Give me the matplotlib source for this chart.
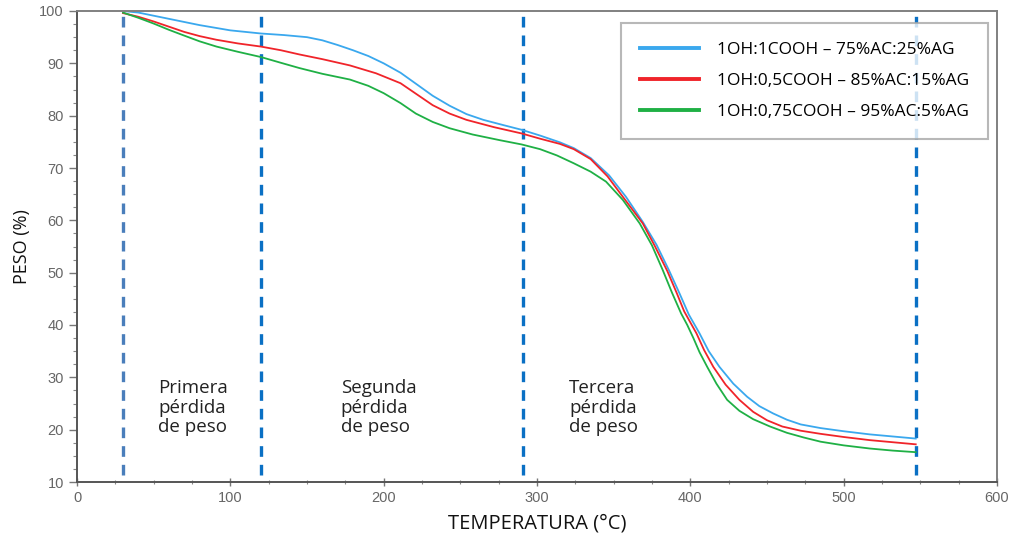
import matplotlib.pyplot as plt
from matplotlib.ticker import MultipleLocator

# TGA curves: temperature (°C) vs weight (%)
temp_a = [30, 40, 50, 60, 70, 80, 90, 100, 110, 120, 135, 150, 160, 170, 180, 190, 200, 211,
          222, 232, 243, 254, 265, 278, 290, 302, 315, 324, 335, 347, 358, 369, 378, 386,
          393, 399, 406, 412, 419, 428, 437, 445, 454, 463, 472, 485, 500, 517, 532, 547]
peso_a = [100.0, 99.7, 99.1, 98.5, 97.9, 97.3, 96.8, 96.3, 96.0, 95.7, 95.4, 95.0, 94.4, 93.5,
          92.5, 91.4, 90.0, 88.2, 85.9, 83.8, 81.9, 80.3, 79.2, 78.2, 77.3, 76.2, 74.9, 73.8,
          71.9, 68.6, 64.5, 59.7, 55.3, 50.5, 46.0, 42.0, 38.4, 35.0, 32.0, 28.8, 26.3, 24.5,
          23.1, 21.9, 21.0, 20.3, 19.7, 19.1, 18.7, 18.3]

temp_b = [30, 40, 50, 60, 70, 80, 91, 105, 120, 133, 145, 160, 178, 195, 211, 222, 232, 243,
          254, 272, 290, 302, 315, 324, 335, 346, 357, 369, 377, 385, 391, 396, 404, 409,
          415, 423, 432, 441, 450, 460, 472, 485, 500, 517, 532, 547]
peso_b = [99.6, 98.9, 98.0, 97.0, 96.0, 95.2, 94.5, 93.8, 93.2, 92.5, 91.7, 90.8, 89.6, 88.1,
          86.2, 84.0, 82.0, 80.4, 79.2, 77.8, 76.6, 75.6, 74.6, 73.6, 71.7, 68.4, 64.1, 59.4,
          55.0, 50.3, 46.2, 42.6, 38.4, 35.2, 32.0, 28.6, 25.7, 23.4, 21.8, 20.6, 19.8, 19.2,
          18.6, 18.0, 17.6, 17.2]

temp_c = [30, 40, 50, 60, 69, 80, 91, 105, 120, 133, 145, 160, 178, 190, 200, 211, 221, 232,
          243, 258, 276, 290, 302, 313, 324, 335, 345, 356, 367, 375, 382, 388, 394, 398,
          402, 406, 411, 417, 424, 432, 441, 452, 463, 474, 485, 500, 517, 532, 547]
peso_c = [99.7, 98.7, 97.6, 96.4, 95.4, 94.2, 93.2, 92.2, 91.2, 90.1, 89.1, 88.0, 86.9, 85.7,
          84.3, 82.4, 80.4, 78.8, 77.6, 76.4, 75.3, 74.5, 73.6, 72.4, 70.9, 69.3, 67.4, 63.9,
          59.4, 55.2, 50.5, 46.2, 42.2, 40.0, 37.5, 34.8, 32.0, 28.8, 25.7, 23.6, 22.0, 20.6,
          19.4, 18.5, 17.7, 17.0, 16.4, 16.0, 15.7]

etiquetas = ['1OH:1COOH – 75%AC:25%AG',
             '1OH:0,5COOH – 85%AC:15%AG',
             '1OH:0,75COOH – 95%AC:5%AG']

# limits between weight-loss stages
limites = [30, 120, 291, 547]
etapas = ['Primera\npérdida\nde peso', 'Segunda\npérdida\nde peso', 'Tercera\npérdida\nde peso']
pos_etapas = [53, 172, 321]

fig = plt.figure(figsize=(10.16, 5.35), dpi=100)
fig.patch.set_facecolor('white')
ax = fig.add_axes([77 / 1016, 53 / 535, 920 / 1016, 471 / 535])

ax.plot(temp_a, peso_a, color='#3aa8ee', lw=1.3, label=etiquetas[0])
ax.plot(temp_b, peso_b, color='#f0242a', lw=1.3, label=etiquetas[1])
ax.plot(temp_c, peso_c, color='#1fb045', lw=1.3, label=etiquetas[2])

colores_lim = ['#4a7ebb', '#0a70c4', '#0a70c4', '#0a70c4']
for x, c in zip(limites, colores_lim):
    ax.vlines(x, 11.4, 100, colors=c, lw=2.4, linestyles=(0, (3.2, 2.4)), zorder=1)

for x, t in zip(pos_etapas, etapas):
    ax.text(x, 29.6, t, fontsize=13.5, family='Open Sans', color='#222222',
            va='top', ha='left', linespacing=1.1)

ax.set_xlim(0, 600)
ax.set_ylim(10, 100)
ax.xaxis.set_major_locator(MultipleLocator(100))
ax.xaxis.set_minor_locator(MultipleLocator(25))
ax.yaxis.set_major_locator(MultipleLocator(10))
ax.yaxis.set_minor_locator(MultipleLocator(2.5))
ax.tick_params(axis='both', which='major', colors='#777777', labelcolor='#666666',
               labelsize=10.5, length=6, width=1)
ax.tick_params(axis='both', which='minor', colors='#888888', length=3, width=0.8)
ax.tick_params(axis='x', which='both', direction='inout')
for lbl in ax.get_xticklabels() + ax.get_yticklabels():
    lbl.set_family('Liberation Sans')

for s in ax.spines.values():
    s.set_color('#808080')
    s.set_linewidth(1.4)
ax.spines['left'].set_color('#555555')
ax.spines['bottom'].set_color('#555555')

ax.set_xlabel('TEMPERATURA (°C)', fontsize=14.5, family='Open Sans', color='#111111', labelpad=6)
ax.set_ylabel('PESO (%)', fontsize=13, family='Open Sans', color='#111111', labelpad=6)

leg = ax.legend(loc='upper right', bbox_to_anchor=(0.99, 0.975), borderaxespad=0,
                prop={'family': 'Open Sans', 'size': 12.5}, handlelength=3.4,
                handletextpad=1.0, labelspacing=0.85, borderpad=1.1,
                frameon=True, fancybox=False, shadow=False)
leg.get_frame().set_edgecolor('#a6a6a6')
leg.get_frame().set_linewidth(1.5)
for line in leg.get_lines():
    line.set_linewidth(2.8)

plt.savefig('out.png', dpi=100, facecolor='white')
